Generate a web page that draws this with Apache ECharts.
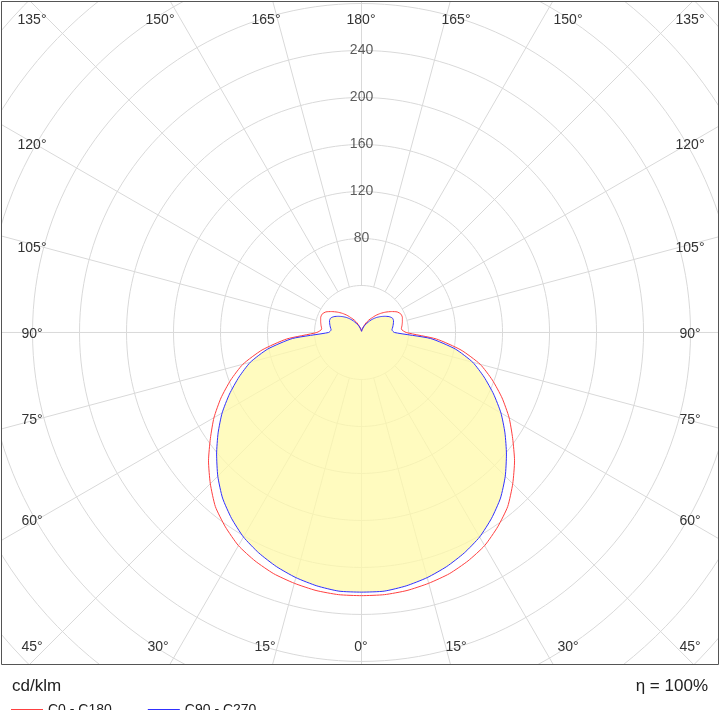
<!DOCTYPE html>
<html>
<head>
<meta charset="utf-8">
<script src="https://cdn.jsdelivr.net/npm/echarts@6/dist/echarts.min.js"></script>
<style>html,body{margin:0;padding:0;background:#fff}#main{width:720px;height:710px}</style>
</head>
<body>
<div id="main"></div>
<script>
// gamma angles 0..180 step 5, values in cd/klm
var gammas = [0,5,10,15,20,25,30,35,40,45,50,55,60,65,70,75,80,85,90,95,100,105,110,115,120,125,130,135,140,145,150,155,160,165,170,175,180];
var c0c180 = [224,224,223,221,218.5,214.5,209.5,202,193.5,182,170,157,145,132,118.5,104.5,86,64,38,34,35,36,37,37,35,31,27,23,19,15,12,9,6,4,3,1.5,1];
var c90c270 = [221,221,219,216,212,207,201,193,184,173,161,149,137,124,111,98,81,59,28,26,27,28,29,29,27,24,21,18,15,12,9,7,5,3,2,1,1];
var ringValues = [40,80,120,160,200,240,280,320,360,400,440,480];
var ringLabels = [80,120,160,200,240];
var angleLabels = [
	['135°',32,20],['150°',160,20],['165°',266,20],['180°',361,20],['165°',456,20],['150°',568,20],['135°',690,20],
	['120°',32,145],['105°',32,248],['90°',32,334],['75°',32,420],['60°',32,521],
	['120°',690,145],['105°',690,248],['90°',690,334],['75°',690,420],['60°',690,521],
	['45°',32,647],['30°',158,647],['15°',265,647],['0°',361,647],['15°',456,647],['30°',568,647],['45°',690,647]
];

// polar (gamma from straight down, both sides) -> x,y
function toXY(vals){
	var pts = [];
	for (var i = gammas.length - 1; i >= 0; i--) {
		var g = gammas[i] * Math.PI / 180;
		pts.push([-vals[i] * Math.sin(g), -vals[i] * Math.cos(g)]);
	}
	for (var j = 1; j < gammas.length; j++) {
		var g2 = gammas[j] * Math.PI / 180;
		pts.push([vals[j] * Math.sin(g2), -vals[j] * Math.cos(g2)]);
	}
	return pts;
}

var gridStyle = {color:'#d9d9d9', width:1};
var series = [];
ringValues.forEach(function(r){
	var d = [];
	for (var a = 0; a <= 360; a += 2) {
		d.push([r * Math.cos(a * Math.PI / 180), r * Math.sin(a * Math.PI / 180)]);
	}
	series.push({type:'line', data:d, symbol:'none', silent:true, lineStyle:gridStyle, z:1});
});
for (var a = 0; a < 360; a += 15) {
	var t = a * Math.PI / 180;
	series.push({type:'line', symbol:'none', silent:true, lineStyle:gridStyle, z:1,
		data:[[40 * Math.sin(t), -40 * Math.cos(t)], [700 * Math.sin(t), -700 * Math.cos(t)]]});
}

var bluePts = toXY(c90c270);
series.push({
	type:'custom', z:2, silent:true,
	renderItem:function(params, api){
		var pts = bluePts.map(function(p){ return api.coord(p); });
		return {type:'polygon', shape:{points:pts, smooth:0.2}, style:{fill:'rgba(255,250,170,0.75)'}};
	},
	data:[0]
});
series.push({name:'C0 - C180', type:'line', data:toXY(c0c180), symbol:'none', z:4, smooth:0.2,
	lineStyle:{color:'#ff4040', width:1}, itemStyle:{color:'#ff4040'}});
series.push({name:'C90 - C270', type:'line', data:bluePts, symbol:'none', z:4, smooth:0.2,
	lineStyle:{color:'#3030ff', width:1}, itemStyle:{color:'#3030ff'}});
series.push({type:'scatter', symbolSize:0, silent:true, z:5,
	data:ringLabels.map(function(v){ return [0, v]; }),
	label:{show:true, position:'inside', formatter:function(p){ return p.value[1]; },
		fontFamily:'Liberation Sans', fontSize:14, color:'#333'}});

var graphics = angleLabels.map(function(l){
	return {type:'text', x:l[1], y:l[2], z:10,
		style:{text:l[0], align:'center', verticalAlign:'middle', font:'14px "Liberation Sans"', fill:'#333'}};
});
graphics.push({type:'rect', shape:{x:1.5, y:1.5, width:717, height:663}, z:20,
	style:{fill:'none', stroke:'#555', lineWidth:1}});
graphics.push({type:'text', x:12, y:686, style:{text:'cd/klm', verticalAlign:'middle', font:'17px "Liberation Sans"', fill:'#222'}});
graphics.push({type:'text', x:708, y:686, style:{text:'η = 100%', align:'right', verticalAlign:'middle', font:'17px "Liberation Sans"', fill:'#222'}});

var myChart = echarts.init(document.getElementById('main'));
var option = {
	animation:false,
	grid:{left:1.5, top:1.5, width:717, height:663},
	xAxis:{type:'value', min:-306.4, max:303.8, show:false},
	yAxis:{type:'value', min:-282.6, max:281.7, show:false},
	legend:{left:6, top:698, itemWidth:32, itemHeight:2, itemGap:36, icon:'rect',
		data:[
			{name:'C0 - C180', itemStyle:{color:'#ff4040'}},
			{name:'C90 - C270', itemStyle:{color:'#3030ff'}}
		], textStyle:{fontFamily:'Liberation Sans', fontSize:14, color:'#222'}},
	graphic:graphics,
	series:series
};
myChart.setOption(option);
</script>
</body>
</html>
